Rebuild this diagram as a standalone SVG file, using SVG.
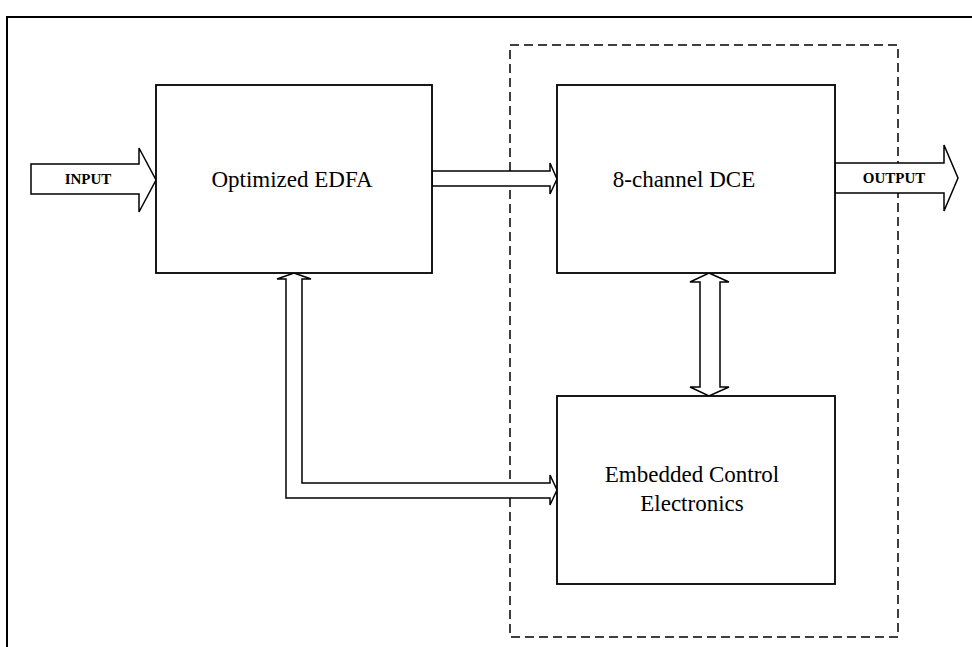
<svg xmlns="http://www.w3.org/2000/svg" width="972" height="647" viewBox="0 0 972 647">
<style>
.box{fill:#fff;stroke:#000;stroke-width:1.8}
.arrow{fill:#fff;stroke:#000;stroke-width:1.5;stroke-linejoin:miter}
.lbl{font-family:"Liberation Serif","Times New Roman",serif;font-size:23px;fill:#000;text-anchor:middle}
.io{font-family:"Liberation Serif","Times New Roman",serif;font-size:15px;font-weight:bold;fill:#000;text-anchor:middle}
.frame{fill:none;stroke:#000;stroke-width:2}
.dash{fill:none;stroke:#000;stroke-width:1.5;stroke-dasharray:9 5}
</style>
<rect width="972" height="647" fill="#fff"/>
<path class="frame" d="M972,17 H7 V647"/>
<rect class="dash" x="510" y="45" width="388" height="592"/>
<g id="connectors">
<polygon id="input-arrow" class="arrow" points="31,164 139,164 139,148 156,180 139,212 139,194 31,194"/>
<polygon id="edfa-dce" class="arrow" points="432,171 550,171 550,163 557,179 550,194 550,186 432,186"/>
<polygon id="output-arrow" class="arrow" points="835,163 944,163 944,145 958,178 944,211 944,193 835,193"/>
<polygon id="edfa-ece" class="arrow" points="294,273 311,279 302,279 302,483 550,483 550,475 557,490 550,505 550,498 286,498 286,279 277,279"/>
<polygon id="dce-ece" class="arrow" points="709,273 729,282 720,282 720,387 729,387 709,396 690,387 700,387 700,282 690,282"/>
</g>
<text class="io" x="88" y="184">INPUT</text>
<text class="io" x="894" y="183">OUTPUT</text>
<g id="edfa">
<rect class="box" x="156" y="85" width="276" height="188"/>
<text class="lbl" x="292" y="187">Optimized EDFA</text>
</g>
<g id="dce">
<rect class="box" x="557" y="85" width="278" height="188"/>
<text class="lbl" x="684" y="187">8-channel DCE</text>
</g>
<g id="ece">
<rect class="box" x="557" y="396" width="278" height="188"/>
<text class="lbl" x="692" y="482">Embedded Control</text>
<text class="lbl" x="692" y="511">Electronics</text>
</g>
</svg>
